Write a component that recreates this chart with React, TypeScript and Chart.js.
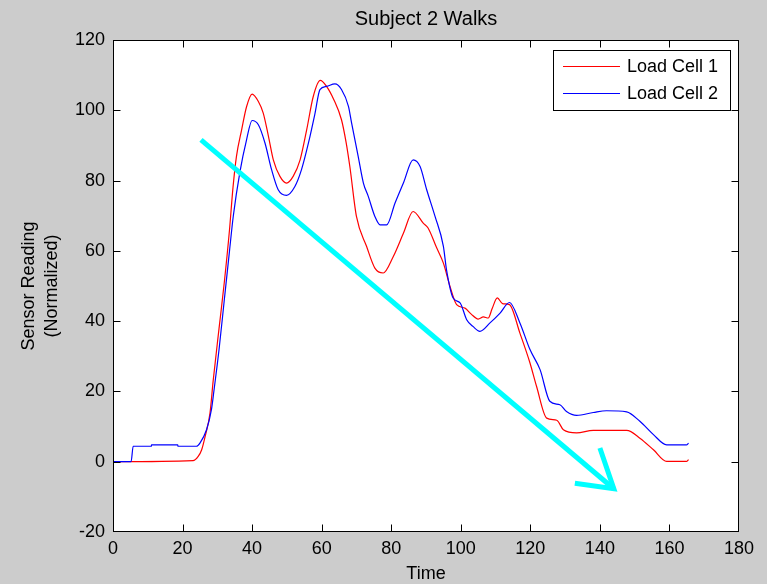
import React, { useEffect, useRef } from 'react';
import { Chart, registerables } from 'chart.js';

Chart.register(...registerables);

const chartTitle = 'Subject 2 Walks';
const xAxisTitle = 'Time';
const yAxisTitleLines = ['Sensor Reading', '(Normalized)'];
const seriesLabels = ['Load Cell 1', 'Load Cell 2'];
const seriesColors = ['#ff0000', '#0000ff'];
const arrowColor = '#00ffff';

const xTickValues = [0, 20, 40, 60, 80, 100, 120, 140, 160, 180];
const yTickValues = [-20, 0, 20, 40, 60, 80, 100, 120];

const cell1Time = [
  0, 23, 24.5, 25.5, 26.5, 27.9, 28.8, 30.5, 32, 33.5, 34.5, 35.5, 37, 38.4, 40, 41.8, 43.2, 44.7, 46.1, 48,
  49.9, 51.8, 53.8, 55.7, 57.6, 59.6, 61.4, 63.5, 65.7, 67, 68.1, 70, 72.9, 75.3, 77.7, 80.6, 83.5, 86.3, 89.2,
  90.6, 93, 95, 96.9, 98.8, 101.2, 103, 105, 106.5, 107.9, 109, 110.5, 112, 114, 117, 119.9, 121.8, 124.7,
  127.6, 129.5, 133.3, 138.1, 147.7, 151.5, 155.4, 159.2, 164.9, 165.5,
];
const cell1Values = [
  0, 0.3, 1.5, 3.4, 7.2, 13.9, 23, 38, 51, 66, 78, 86.9, 94.5, 101, 104.6, 102.5, 99.2, 92.6, 85.9, 81.2,
  79.3, 81.2, 85.9, 94.5, 104, 108.5, 106.8, 103, 97.3, 91, 84, 69.8, 61.3, 55.1, 53.7, 58.4, 65, 71.2, 67.9,
  66.5, 61, 56.5, 49.9, 44.7, 43.7, 42, 40.6, 41.2, 40.9, 43.5, 46.6, 45, 44.7, 36.6, 28.1, 21.4, 12.4,
  11.8, 9.1, 8.2, 8.9, 8.9, 6.7, 3.4, 0.1, 0.1, 0.6,
];

const cell2Time = [
  0, 5.2, 5.8, 11, 11.1, 18.6, 18.7, 24, 25, 26.9, 28.3, 29, 30.5, 32, 33.5, 34.6, 36.5, 38.4, 40, 41.8,
  43.7, 45.6, 47.5, 49.9, 52.3, 54.2, 56.2, 58.1, 59.5, 61.4, 63.8, 65.7, 67.7, 68.6, 70.5, 72, 73.4, 75.3,
  76.8, 78.7, 81.1, 83.5, 86.3, 88.3, 90.2, 92.6, 95, 95.9, 97.8, 99.8, 101.7, 103.5, 105.5, 108.4, 111.3,
  114, 117, 119.9, 122.8, 125.6, 128.5, 130.4, 133.3, 138.1, 141.9, 147.7, 151.5, 155.4, 159.2, 164.9, 165.5,
];
const cell2Values = [
  0, 0, 4.4, 4.4, 4.8, 4.8, 4.4, 4.4, 5.3, 9.1, 14.8, 20, 32, 46, 60, 70, 82.5, 91.6, 97.1, 95.9,
  90.7, 83.1, 77.4, 75.8, 78.3, 83.1, 90.7, 99.2, 105.9, 106.8, 107.5, 105.9, 101.1, 96.4, 86.9, 79.3, 75.5, 69.8,
  67.4, 67.4, 73.6, 79.3, 85.9, 84, 77.4, 69.8, 61.3, 54.6, 46.6, 45.2, 40.4, 38.5, 37.1, 39.5, 42.3,
  45.3, 39.5, 31.9, 26.2, 17.2, 16.2, 14.3, 13.2, 14, 14.5, 14.2, 11.5, 7.7, 4.8, 4.8, 5.3,
];

const arrowShaftTime = [25.3, 144];
const arrowShaftValues = [91.6, -7.7];
const arrowHeadTime = [140, 144, 132.8];
const arrowHeadValues = [3.9, -7.7, -6.1];

const FONT = '"Liberation Sans", Arial, Helvetica, sans-serif';

function toPoints(xs: number[], ys: number[]) {
  return xs.map((x, i) => ({ x, y: ys[i] }));
}

const matlabPlugin = {
  id: 'matlabLook',
  beforeDraw(chart: any) {
    const { ctx, chartArea } = chart;
    ctx.save();
    ctx.fillStyle = '#cccccc';
    ctx.fillRect(0, 0, chart.width, chart.height);
    ctx.fillStyle = '#ffffff';
    ctx.fillRect(chartArea.left, chartArea.top, chartArea.right - chartArea.left, chartArea.bottom - chartArea.top);
    ctx.restore();
  },
  afterDraw(chart: any) {
    const { ctx, chartArea } = chart;
    const xs = chart.scales.x;
    const ys = chart.scales.y;
    const L = Math.round(chartArea.left) + 0.5;
    const R = Math.round(chartArea.right) - 0.5;
    const T = Math.round(chartArea.top) + 0.5;
    const B = Math.round(chartArea.bottom) - 0.5;
    const tl = 7;
    const clamp = (v: number, a: number, b: number) => Math.min(b, Math.max(a, v));
    ctx.save();
    ctx.strokeStyle = '#000000';
    ctx.lineWidth = 1;
    ctx.beginPath();
    xTickValues.forEach((v) => {
      const px = clamp(Math.round(xs.getPixelForValue(v)) + 0.5, L, R);
      ctx.moveTo(px, B);
      ctx.lineTo(px, B - tl);
      ctx.moveTo(px, T);
      ctx.lineTo(px, T + tl);
    });
    yTickValues.forEach((v) => {
      const py = clamp(Math.round(ys.getPixelForValue(v)) + 0.5, T, B);
      ctx.moveTo(L, py);
      ctx.lineTo(L + tl, py);
      ctx.moveTo(R, py);
      ctx.lineTo(R - tl, py);
    });
    ctx.stroke();
    ctx.strokeRect(L, T, R - L, B - T);

    ctx.fillStyle = '#000000';
    ctx.textAlign = 'center';
    ctx.textBaseline = 'middle';
    const cx = (chartArea.left + chartArea.right) / 2;
    ctx.font = `20px ${FONT}`;
    ctx.fillText(chartTitle, cx, 19);
    ctx.font = `18px ${FONT}`;
    ctx.fillText(xAxisTitle, cx, 574);
    const cy = (chartArea.top + chartArea.bottom) / 2;
    yAxisTitleLines.forEach((line, i) => {
      ctx.save();
      ctx.translate(29 + i * 23, cy);
      ctx.rotate(-Math.PI / 2);
      ctx.fillText(line, 0, 0);
      ctx.restore();
    });

    const lx = 553.5, ly = 50.5, lw = 177, lh = 60;
    ctx.fillStyle = '#ffffff';
    ctx.fillRect(lx, ly, lw, lh);
    ctx.strokeStyle = '#000000';
    ctx.strokeRect(lx, ly, lw, lh);
    ctx.textAlign = 'left';
    ctx.font = `18px ${FONT}`;
    seriesLabels.forEach((label, i) => {
      const yy = 66 + i * 27;
      ctx.strokeStyle = seriesColors[i];
      ctx.beginPath();
      ctx.moveTo(563, yy + 0.5);
      ctx.lineTo(620, yy + 0.5);
      ctx.stroke();
      ctx.fillStyle = '#000000';
      ctx.fillText(label, 627, yy + 1);
    });
    ctx.restore();
  },
};

export default function App() {
  const canvasRef = useRef<HTMLCanvasElement | null>(null);

  useEffect(() => {
    if (!canvasRef.current) return;
    const lineCommon = {
      pointRadius: 0,
      fill: false,
      tension: 0.4,
      cubicInterpolationMode: 'monotone' as const,
    };
    const chart = new Chart(canvasRef.current, {
      type: 'line',
      data: {
        datasets: [
          {
            ...lineCommon,
            label: seriesLabels[0],
            data: toPoints(cell1Time, cell1Values),
            borderColor: seriesColors[0],
            borderWidth: 1.2,
            order: 3,
          },
          {
            ...lineCommon,
            label: seriesLabels[1],
            data: toPoints(cell2Time, cell2Values),
            borderColor: seriesColors[1],
            borderWidth: 1.2,
            order: 2,
          },
          {
            label: 'arrow',
            data: toPoints(arrowShaftTime, arrowShaftValues),
            borderColor: arrowColor,
            borderWidth: 5,
            pointRadius: 0,
            tension: 0,
            fill: false,
            order: 1,
          },
          {
            label: 'arrowHead',
            data: toPoints(arrowHeadTime, arrowHeadValues),
            borderColor: arrowColor,
            borderWidth: 5,
            pointRadius: 0,
            tension: 0,
            fill: false,
            order: 0,
          },
        ],
      },
      options: {
        responsive: false,
        animation: false,
        devicePixelRatio: 1,
        layout: { padding: { left: 0, top: 40, right: 28, bottom: 0 } },
        plugins: {
          legend: { display: false },
          title: { display: false },
          tooltip: { enabled: false },
        },
        scales: {
          x: {
            type: 'linear',
            min: 0,
            max: 180,
            grid: { display: false, drawTicks: false },
            border: { display: false },
            ticks: {
              stepSize: 20,
              padding: 6,
              color: '#000000',
              font: { family: FONT, size: 18 },
              maxRotation: 0,
            },
            afterFit: (s: any) => {
              s.height = 52;
            },
          },
          y: {
            type: 'linear',
            min: -20,
            max: 120,
            grid: { display: false, drawTicks: false },
            border: { display: false },
            ticks: {
              stepSize: 20,
              padding: 8,
              color: '#000000',
              font: { family: FONT, size: 18 },
            },
            afterFit: (s: any) => {
              s.width = 113;
            },
          },
        },
      },
      plugins: [matlabPlugin],
    });
    return () => chart.destroy();
  }, []);

  return (
    <div style={{ position: 'absolute', left: 0, top: 0, width: 767, height: 584 }}>
      <canvas ref={canvasRef} width={767} height={584} style={{ display: 'block' }} />
    </div>
  );
}
